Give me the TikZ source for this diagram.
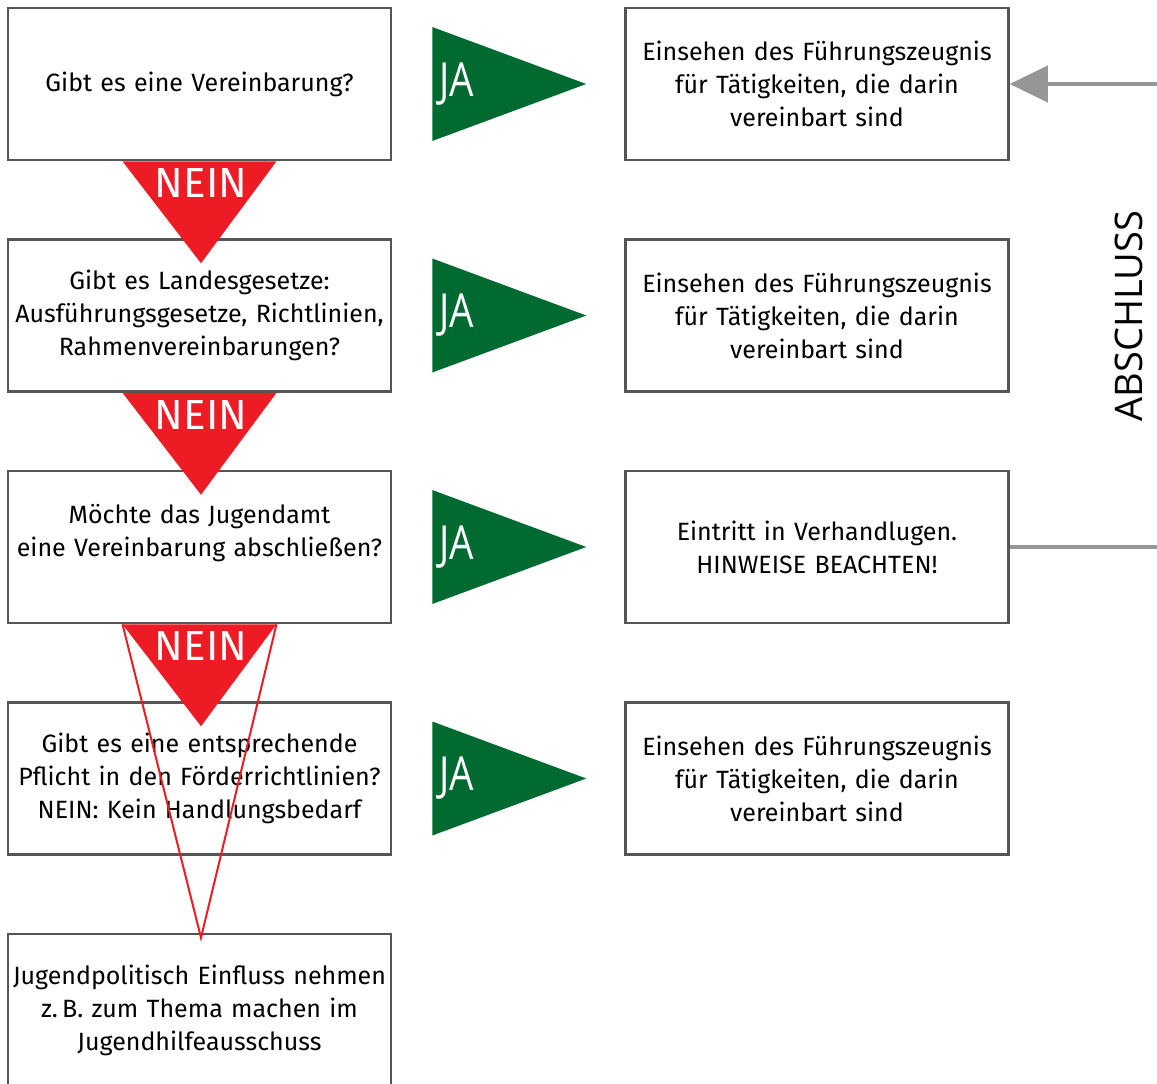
\documentclass[tikz,border=0pt]{standalone}
\usepackage{fontspec}
\setmainfont{Fira Sans}
\newfontfamily\flagfont[FakeStretch=0.82]{Open Sans}
\newfontfamily\sidefont{Open Sans}
\usetikzlibrary{positioning,calc,arrows.meta}
\definecolor{frameColor}{RGB}{85,85,85}
\definecolor{jaColor}{RGB}{0,106,48}
\definecolor{neinColor}{RGB}{237,28,36}
\definecolor{lineColor}{RGB}{150,150,150}
\tikzstyle{stepBox} = [draw=frameColor, line width=2.5pt, fill=white, minimum width=383pt, minimum height=152pt, text width=380pt, align=center, font=\fontsize{25}{33}\selectfont, inner sep=0pt]
\tikzstyle{flagText} = [text=white, font=\flagfont\fontsize{47}{47}\selectfont, inner sep=0pt]
\tikzstyle{neinText} = [text=white, font=\fontsize{42}{42}\selectfont, inner sep=0pt]
\tikzstyle{sideText} = [text=black, font=\sidefont\fontsize{38}{38}\selectfont, inner sep=0pt]
\tikzstyle{backLine} = [draw=lineColor, line width=4pt]
\newcommand{\jaFlag}[1]{
  \fill [jaColor] ($(#1.east)+(40,-57)$) -- ($(#1.east)+(194,0)$) -- ($(#1.east)+(40,57)$) -- cycle;
  \node [flagText, anchor=west] (#1ja) at ($(#1.east)+(47,0)$) {JA};
}
\newcommand{\neinFlag}[1]{
  \fill [neinColor] ($(#1.south)+(-77,0)$) -- ($(#1.south)+(77,0)$) -- ($(#1.south)+(1.5,102)$) -- cycle;
  \node [neinText] (#1nein) at ($(#1.south)+(1.5,22)$) {NEIN};
}
\begin{document}
\begin{tikzpicture}[x=1pt, y=-1pt]
  \useasboundingbox (0,0) rectangle (1157,1084);
  % questions on the left
  \node [stepBox] (q1) at (199.5,84) {Gibt es eine Vereinbarung?};
  \node [stepBox, below=77pt of q1] (q2) {Gibt es Landesgesetze:\\Ausführungsgesetze, Richtlinien,\\Rahmenvereinbarungen?};
  \node [stepBox, below=77pt of q2] (q3) {Möchte das Jugendamt\\eine Vereinbarung abschließen?\\\mbox{}};
  \node [stepBox, below=77pt of q3] (q4) {Gibt es eine entsprechende\\Pflicht in den Förderrichtlinien?\\NEIN: Kein Handlungsbedarf};
  \node [stepBox, below=77pt of q4] (q5) {Jugendpolitisch Einfluss nehmen\\z.\,B. zum Thema machen im\\Jugendhilfeausschuss};
  % results on the right
  \node [stepBox, right=232pt of q1] (r1) {Einsehen des Führungszeugnis\\für Tätigkeiten, die darin\\vereinbart sind};
  \node [stepBox, right=232pt of q2] (r2) {Einsehen des Führungszeugnis\\für Tätigkeiten, die darin\\vereinbart sind};
  \node [stepBox, right=232pt of q3] (r3) {Eintritt in Verhandlugen.\\HINWEISE BEACHTEN!};
  \node [stepBox, right=232pt of q4] (r4) {Einsehen des Führungszeugnis\\für Tätigkeiten, die darin\\vereinbart sind};
  % flags
  \jaFlag{q1}
  \jaFlag{q2}
  \jaFlag{q3}
  \jaFlag{q4}
  \neinFlag{q1}
  \neinFlag{q2}
  \neinFlag{q3}
  \draw [neinColor, line width=2pt] ($(q3.south)+(-77,0)$) -- ($(q5.north)+(1.5,5)$) -- ($(q3.south)+(77,0)$);
  % way back
  \coordinate (backIn) at ($(r1.east)+(152,0)$);
  \coordinate (backOut) at ($(r3.east)+(152,0)$);
  \draw [backLine, -{Triangle[length=38pt,width=36pt]}] (backIn) -- (r1.east);
  \draw [backLine] (r3.east) -- (backOut);
  \node [sideText, rotate=90] (abschluss) at (1129,316) {ABSCHLUSS};
\end{tikzpicture}
\end{document}
